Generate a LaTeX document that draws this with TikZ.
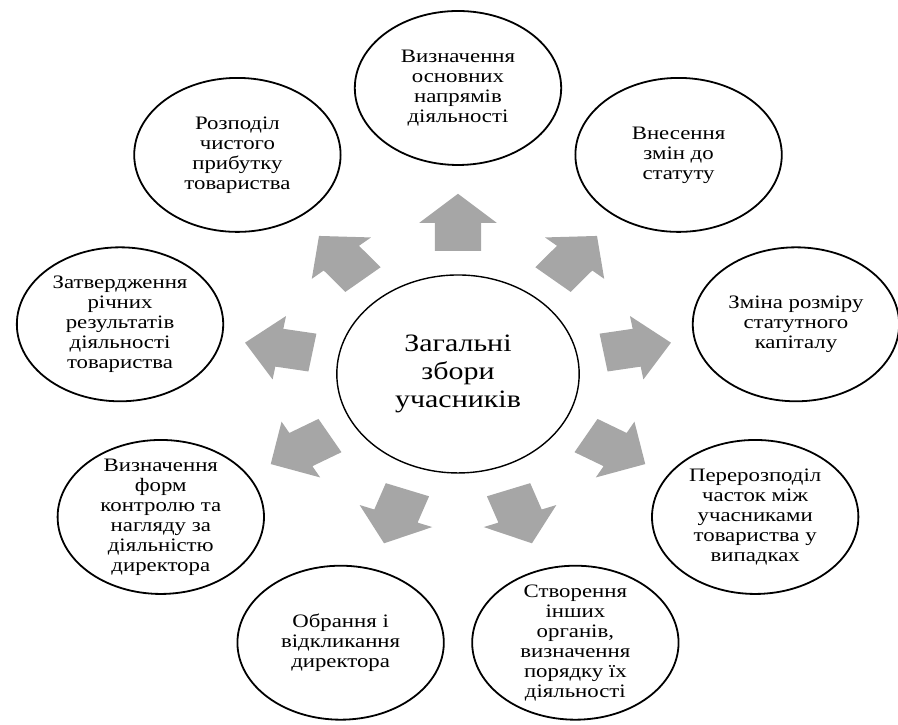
\documentclass[tikz,border=0pt]{standalone}
\usepackage{fontspec}
\setmainfont{Liberation Serif}
\usetikzlibrary{shapes.geometric, shapes.arrows}
\definecolor{arrowgray}{RGB}{166,166,166}

\begin{document}
\begin{tikzpicture}[x=1pt, y=1pt, xscale=1.2, transform shape,
    bubble/.style={ellipse, draw, line width=1.8pt, minimum width=172pt,
        minimum height=154pt, inner sep=-8pt, align=center,
        font=\fontsize{19}{20}\selectfont},
    blockarrow/.style={single arrow, fill=arrowgray, draw=none,
        minimum width=0pt, minimum height=57pt, inner xsep=0pt, inner ysep=19pt,
        single arrow head extend=13pt, single arrow tip angle=96, anchor=tail}]

\useasboundingbox (-381.7,-351) rectangle (366.7,374);

% Centre
\node[ellipse, draw, line width=1.4pt, minimum width=202pt, minimum height=198pt,
    align=center, font=\fontsize{25}{28}\selectfont] (zbory) at (0,0)
    {Загальні\\збори\\учасників};

% Arrows
\foreach \a [count=\i] in {90,50,...,-230}
    \node[blockarrow, rotate=\a] (arr\i) at (\a:123) {};

% Outer nodes
\node[bubble] (napryamy) at (90:286) {Визначення\\основних\\напрямів\\діяльності};
\node[bubble] (statut) at (50:286) {Внесення\\змін до\\статуту};
\node[bubble] (kapital) at (10:286) {Зміна розміру\\статутного\\капіталу};
\node[bubble] (chastky) at (-30:286) {Перерозподіл\\часток між\\учасниками\\товариства у\\випадках};
\node[bubble] (organy) at (-70:286) {Створення\\інших\\органів,\\визначення\\порядку їх\\діяльності};
\node[bubble] (dyrektor) at (-110:286) {Обрання і\\відкликання\\директора};
\node[bubble] (kontrol) at (-150:286) {Визначення\\форм\\контролю та\\нагляду за\\діяльністю\\директора};
\node[bubble] (rezultaty) at (170:286) {Затвердження\\річних\\результатів\\діяльності\\товариства};
\node[bubble] (prybutok) at (130:286) {Розподіл\\чистого\\прибутку\\товариства};

\end{tikzpicture}
\end{document}
